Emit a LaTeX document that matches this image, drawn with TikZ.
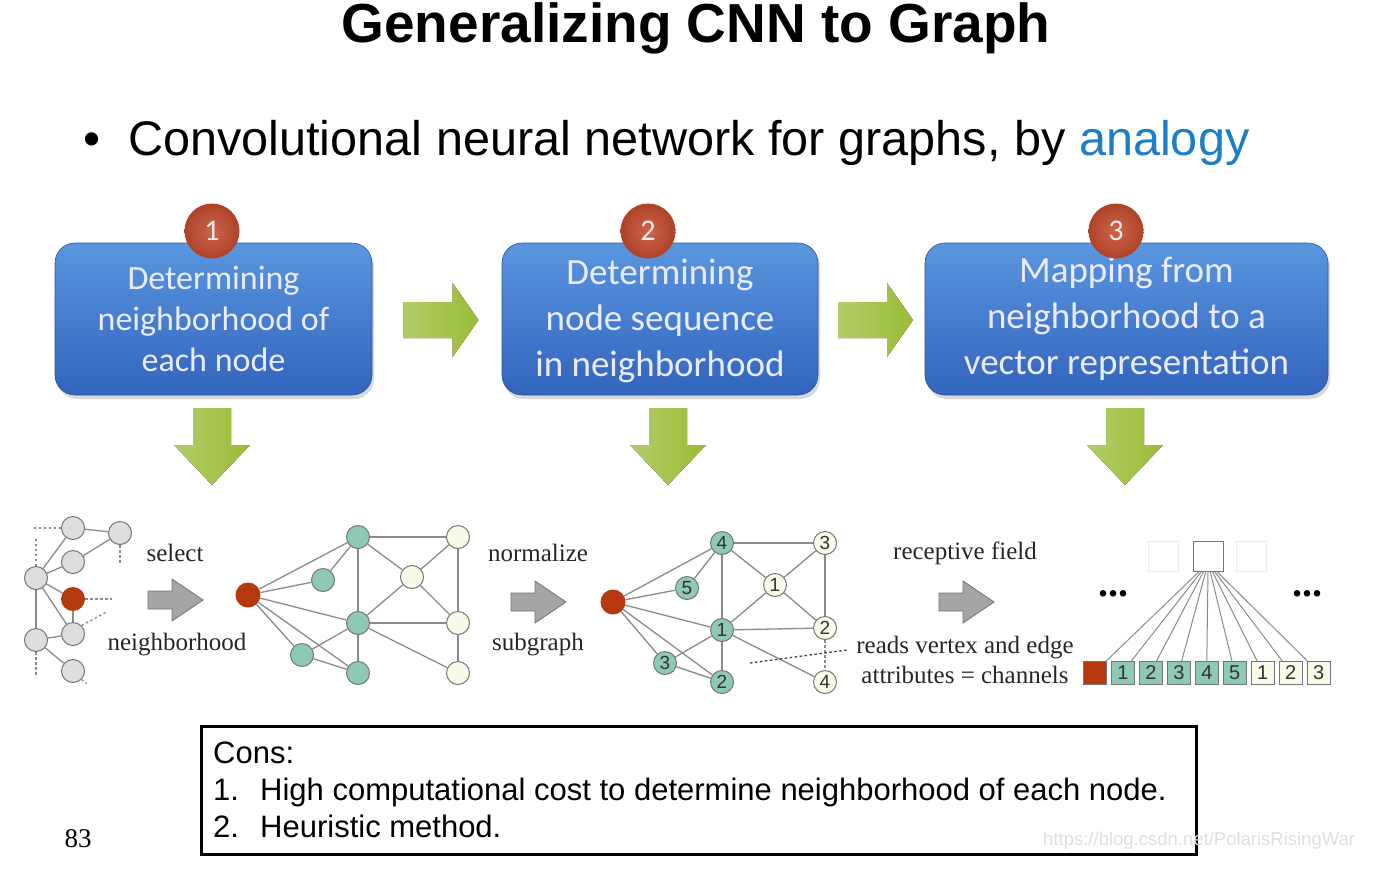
\documentclass[tikz,border=0pt]{standalone}
\usepackage{fontspec}
\setmainfont{Liberation Sans}
\newfontfamily\carlito{Carlito}
\newfontfamily\timesf{Liberation Serif}
\usetikzlibrary{positioning, calc, shadows}
\definecolor{boxtop}{RGB}{90,150,224}
\definecolor{boxbot}{RGB}{50,100,188}
\definecolor{badge}{RGB}{194,74,44}
\definecolor{leaf}{RGB}{154,188,54}
\definecolor{linkc}{RGB}{138,138,138}
\definecolor{grayv}{RGB}{222,222,222}
\definecolor{tealv}{RGB}{142,200,182}
\definecolor{creamv}{RGB}{250,250,232}
\definecolor{rootv}{RGB}{182,56,14}
\definecolor{arrgray}{RGB}{165,165,165}
\definecolor{linkblue}{RGB}{28,126,196}
\tikzset{
  stepbox/.style={rounded corners=20pt, top color=boxtop, bottom color=boxbot, draw=boxbot!85!black, line width=0.6pt, minimum height=152, align=center, text=white!92!blue, drop shadow={opacity=0.3, shadow xshift=2pt, shadow yshift=-4pt}},
  badgec/.style={circle, inner color=badge!85!white, outer color=badge!90!black, minimum size=55, inner sep=0pt, text=white!92!red, font=\carlito\fontsize{30}{30}\selectfont},
  vtx/.style={circle, draw=linkc!85!black, line width=1pt, minimum size=23, inner sep=0pt, font=\fontsize{19}{19}\selectfont, text=black!80},
  gv/.style={vtx, fill=grayv},
  tv/.style={vtx, fill=tealv},
  cv/.style={vtx, fill=creamv},
  rv/.style={circle, fill=rootv, minimum size=25, inner sep=0pt},
  lnk/.style={draw=linkc, line width=1.3pt},
  dlnk/.style={lnk, dash pattern=on 2.5pt off 2.5pt},
  glab/.style={font=\timesf\fontsize{25}{30}\selectfont, text=black!85, align=center},
  cell/.style={draw=linkc!85!black, line width=1pt, minimum size=23, inner sep=0pt, font=\fontsize{20}{20}\selectfont, text=black!80},
  rcell/.style={cell, fill=rootv},
  tcell/.style={cell, fill=tealv},
  ccell/.style={cell, fill=creamv},
  ghost/.style={draw=black!8, line width=1pt, minimum size=30, inner sep=0pt},
  dotrow/.style={font=\timesf\bfseries\fontsize{40}{40}\selectfont}
}
\newcommand{\leafright}[2]{\fill[left color=leaf!75!white, right color=leaf, shift={(#1,#2)}] (-37,-18) -- (12,-18) -- (12,-37) -- (38,0) -- (12,37) -- (12,18) -- (-37,18) -- cycle;}
\newcommand{\leafdown}[2]{\fill[left color=leaf!75!white, right color=leaf, shift={(#1,#2)}] (-19,-38) -- (19,-38) -- (19,-1) -- (38,-1) -- (0,39) -- (-38,-1) -- (-19,-1) -- cycle;}
\newcommand{\grayarrow}[2]{\filldraw[fill=arrgray, draw=arrgray!70!black, line width=0.8pt, shift={(#1,#2)}] (-27,-9) -- (-3,-9) -- (-3,-21) -- (28,0) -- (-3,21) -- (-3,9) -- (-27,9) -- cycle;}

\begin{document}
\begin{tikzpicture}[x=1pt, y=-1pt]
	\useasboundingbox (0,0) rectangle (1400,868);
	\node[anchor=base, font=\bfseries\fontsize{55}{60}\selectfont] (title) at (696,42) {Generalizing CNN to Graph};
	\node[anchor=base west, font=\fontsize{48.6}{50}\selectfont] (bul) at (80,155) {\textbullet};
	\node[anchor=base west, font=\fontsize{48.6}{50}\selectfont, inner sep=0pt] (head) at (128,155) {Convolutional neural network for graphs, by \textcolor{linkblue}{analogy}};
	% the three steps
	\node[stepbox, minimum width=317, font=\carlito\fontsize{34}{41}\selectfont] (b1) at (213.5,319) {Determining\\neighborhood of\\each node};
	\node[stepbox, minimum width=316, font=\carlito\fontsize{37}{46}\selectfont, text depth=2pt] (b2) at (660,319) {Determining\\node sequence\\in neighborhood};
	\node[stepbox, minimum width=403, font=\carlito\fontsize{37}{46}\selectfont] (b3) at (1126.5,319) {Mapping from\\neighborhood to a\\vector representation};
	\node[badgec] (n1) at (212,231) {1};
	\node[badgec] (n2) at (648,231) {2};
	\node[badgec] (n3) at (1116,231) {3};
	\leafright{440.5}{320}
	\leafright{875}{320}
	\leafdown{212}{446}
	\leafdown{668}{446}
	\leafdown{1125}{446}
	% input graph
	\node[gv] (a1) at (73,528) {};
	\node[gv] (a2) at (120,533) {};
	\node[gv] (a3) at (73,562) {};
	\node[gv] (a4) at (36,578) {};
	\node[rv, minimum size=24] (a0) at (73,599) {};
	\node[gv] (a5) at (73,634) {};
	\node[gv] (a6) at (36,640) {};
	\node[gv] (a7) at (73,671) {};
	\foreach \u/\v in {a1/a2, a3/a2, a4/a1, a4/a3, a4/a0, a4/a5, a4/a6, a0/a5, a6/a5, a6/a7}
		\draw[lnk] (\u) -- (\v);
	\draw[dlnk] (a1.west) -- ++(-27,0);
	\draw[dlnk] (a4.north) -- ++(0,-28);
	\draw[dlnk] (a2.south) -- ++(0,20);
	\draw[dlnk] (a0.east) -- ++(27,0);
	\draw[dlnk] (a5.north east) -- ++(26,-14);
	\draw[dlnk] (a6.south) -- ++(0,25);
	\draw[dlnk] (a7.south east) -- ++(5,4);
	\node[glab] (sel) at (175,553) {select};
	\node[glab] (nbh) at (177,645) {neighborhood};
	\grayarrow{175}{600}
	% neighborhood
	\node[rv] (b0) at (248,595) {};
	\node[tv] (t1) at (358,537) {};
	\node[tv] (t2) at (323,580) {};
	\node[tv] (t3) at (358,623) {};
	\node[tv] (t4) at (302,655) {};
	\node[tv] (t5) at (358,673) {};
	\node[cv] (w1) at (458,537) {};
	\node[cv] (w2) at (412,577) {};
	\node[cv] (w3) at (458,623) {};
	\node[cv] (w4) at (458,673) {};
	\foreach \u/\v in {b0/t1, b0/t2, b0/t3, b0/t4, b0/t5, t2/t1, t1/t3, t1/w1, t1/w2, w2/w1, w2/w3, w2/t3, t3/w3, t3/t4, t3/t5, t3/w4, t4/t5, w1/w3, w3/w4}
		\draw[lnk] (\u) -- (\v);
	\node[glab] (nrm) at (538,553) {normalize};
	\node[glab] (sub) at (538,645) {subgraph};
	\grayarrow{538}{602}
	% normalized subgraph
	\node[rv] (c0) at (613,602) {};
	\node[tv] (c1) at (722,543) {4};
	\node[tv] (c2) at (687,588) {5};
	\node[tv] (c3) at (722,630) {1};
	\node[tv] (c4) at (665,663) {3};
	\node[tv] (c5) at (722,682) {2};
	\node[cv] (c6) at (775,585) {1};
	\node[cv] (c7) at (825,543) {3};
	\node[cv] (c8) at (825,628) {2};
	\node[cv] (c9) at (825,682) {4};
	\foreach \u/\v in {c0/c1, c0/c2, c0/c3, c0/c4, c0/c5, c2/c1, c1/c3, c1/c7, c1/c6, c6/c7, c6/c8, c6/c3, c3/c8, c3/c4, c3/c5, c4/c5, c7/c8, c3/c9}
		\draw[lnk] (\u) -- (\v);
	\draw[dlnk] (c8) -- (c9);
	\coordinate (cutl) at (750,663);
	\coordinate (cutr) at (847,650);
	\draw[dlnk, draw=black!75] (cutl) -- (cutr);
	% receptive field
	\node[glab] (rcp) at (965,553) {receptive field};
	\node[glab] (rds) at (965,660) {reads vertex and edge\\attributes = channels};
	\grayarrow{966}{602}
	\node[ghost] (g1) at (1163,556) {};
	\node[ghost] (g2) at (1251,556) {};
	\node[cell, minimum size=30] (rf) at (1208,556) {};
	\node[dotrow] (dl) at (1113,594) {...};
	\node[dotrow] (dr) at (1307,594) {...};
	\foreach \i/\lab/\sty in {0//rcell, 1/1/tcell, 2/2/tcell, 3/3/tcell, 4/4/tcell, 5/5/tcell, 6/1/ccell, 7/2/ccell, 8/3/ccell}
		\node[\sty] (s\i) at ({1095+27.95*\i},673) {\lab};
	\foreach \i in {0,...,8}
		\draw[lnk, line width=1pt] ($(rf.south)+({(\i-4)*2.2},0)$) -- ($(s\i.north)+({(4-\i)*2.8},0)$);
	% cons
	\node[draw, line width=3pt, minimum width=995, minimum height=128, anchor=north west] (cons) at (200,725) {};
	\node[anchor=base west, inner sep=0pt, font=\fontsize{31}{31}\selectfont] (k0) at (213,763) {Cons:};
	\node[anchor=base west, inner sep=0pt, font=\fontsize{31}{31}\selectfont] (k1) at (213,800) {\makebox[47pt][l]{1.}High computational cost to determine neighborhood of each node.};
	\node[anchor=base west, inner sep=0pt, font=\fontsize{31}{31}\selectfont] (k2) at (213,837) {\makebox[47pt][l]{2.}Heuristic method.};
	\node[anchor=base, font=\timesf\fontsize{27}{27}\selectfont] (pg) at (78,847) {83};
	\node[anchor=base west, inner sep=0pt, text=black!13, font=\fontsize{18.5}{18.5}\selectfont] (wm) at (1043,845) {https://blog.csdn.net/PolarisRisingWar};
\end{tikzpicture}
\end{document}
